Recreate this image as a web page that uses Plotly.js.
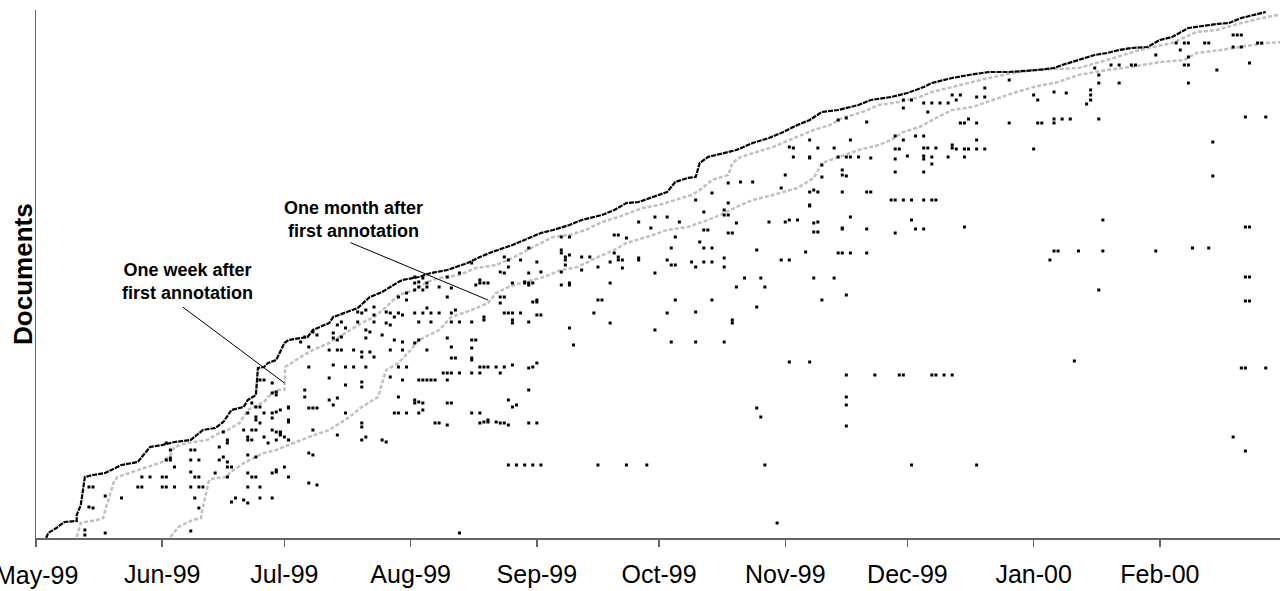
<!DOCTYPE html>
<html><head><meta charset="utf-8">
<script src="https://cdn.plot.ly/plotly-3.0.1.min.js"></script>
<style>body{margin:0;background:#fff}#chart{width:1282px;height:591px}</style>
</head><body><div id="chart"></div>
<script>
// day offsets are days since 1999-05-01; docs = document index (sorted by first annotation)
const monthTicks = ['1999-05-01','1999-06-01','1999-07-01','1999-08-01','1999-09-01','1999-10-01','1999-11-01','1999-12-01','2000-01-01','2000-02-01'];
const monthLabels = ['May-99','Jun-99','Jul-99','Aug-99','Sep-99','Oct-99','Nov-99','Dec-99','Jan-00','Feb-00'];

const firstDay = [2.5,3,5,7,10,10,11,11.5,12,14,17,21,25,28,31,34,38,41,44,46,48,51,52,54,54.5,56,57,59,61,62,66.7,68,72,73,79,82,85,89,90,94,97,101,106,109,112,117,123,124,127,131,134,139,142,145,148,153,155,157,160,162,163,165,169,172,176,180,183,187,190,193,197,202,205,210,214,218,220,225,229,232,234,239,246,250,252,256,260,263,266,269,273,276,279,283,288,290,293,296,299,302];
const firstDoc = [0,5,10,16,17,23,33,48,61,63,65,73,76,91,93,96,98,108,110,116,128,131,138,143,170,171,175,178,195,198,201,208,215,221,230,241,246,256,258,261,265,268,275,281,286,293,303,305,308,313,318,323,328,335,336,343,346,356,360,361,375,381,385,388,395,400,405,413,418,426,428,433,438,441,445,451,455,460,463,465,466,466,468,470,473,478,483,485,488,490,491,498,501,510,513,514,515,520,523,526];

const weekDay = [10,11,12,15,16.5,17,18,19,20,23,25,29,31,33,34,37,42,45,47,50,52,56,57,59,61,61.2,65,68,72,76,80,83,86,89,93,96,99,104,108,113,117,123,127,131,135,139,143,149,153,157,161,163,166,170,171,173,176,181,185,188,191,195,198,203,207,212,217,220,225,230,234,240,245,256,263,271,279,285,290,296,301,305];
const weekDoc = [1,15,16,18,20,28,41,55,61,65,68,73,76,83,91,95,98,105,108,115,128,136,141,148,148,171,181,188,195,205,215,221,231,243,248,256,260,263,270,273,280,293,301,303,308,316,321,330,333,338,343,348,358,363,375,381,385,391,398,403,408,413,420,426,433,436,441,446,451,456,460,465,468,470,478,488,495,506,508,515,520,523];

const monthDay = [33,35,38.5,40.5,41,42,42.5,44,47,47.5,51,56,59,62,67,72,77,80,84,85,86,89,92,94,99,102,107,111,113,116,120,124,129,133,138,142,145,150,155,160,165,168,172,176,181,187,191,193,197,202,207,210,213,217,221,225,230,235,240,245,251,256,263,269,276,282,285,291,296,302,306];
const monthDoc = [1,11,18,20,31,48,58,60,61,65,75,85,88,93,101,108,121,131,141,155,168,175,188,198,208,221,228,235,245,251,256,260,268,271,281,288,295,301,308,311,318,323,331,338,343,350,360,375,381,388,393,398,406,411,420,428,431,438,445,451,456,463,468,471,476,478,485,488,491,495,496];

const annDay = [17,38,12,12,13,14,13,14,17,21,26,28,31,32,25,26,31,32,34,38,40,41,52,55,34,33,32,33,39,40,38,38,40,39,40,44,47,47,48,47,45,47,45,52,54,53,48,49,51,52,55,58,59,61,58,59,52,54,52,54,56,57,59,60,61,62,51,52,53,54,58,60,62,56,59,62,54,52,46,47,46,38,39,33,32,58,59,55,56,62,62,66,66,67,68,69,68,67,68,67,69,59,60,
58,59,53,55,54,55,58,53,58,60,62,67,73,76,78,81,72,76,80,80,72,74,73,76,74,75,78,80,80,82,83,72,65,67,66,68,69,73,74,75,73,75,76,74,79,80,81,82,81,79,83,81,83,83,86,87,88,89,90,86,87,85,88,90,90,87,89,91,91,93,94,95,94,96,93,95,97,96,94,97,93,94,96,94,95,97,98,99,102,103,102,104,101,102,108,107,107,102,103,104,102,100,108,109,114,117,120,115,117,121,123,109,110,113,115,117,121,122,107,110,111,113,115,116,121,123,116,118,90,88,91,94,95,98,99,101,102,107,89,93,94,101,80,80,81,80,85,86,74,
114,123,107,109,111,101,96,101,89,91,87,121,117,109,111,114,109,95,93,89,117,110,107,107,101,102,115,116,116,119,123,121,115,109,110,111,107,104,101,99,96,95,93,93,
114,115,116,119,110,117,124,122,122,121,114,131,132,141,137,141,138,129,131,129,134,138,124,129,130,131,134,136,142,143,144,148,144,152,142,145,148,151,152,155,158,156,157,155,156,157,161,162,164,165,163,164,166,164,166,169,169,170,171,162,164,166,169,170,169,170,172,173,176,170,180,184,185,187,177,183,185,189,191,192,192,191,197,198,198,190,183,184,186,190,193,193,198,174,178,172,179,191,196,199,193,177,166,157,162,155,171,162,156,169,152,121,123,120,121,129,130,130,131,123,129,131,139,143,141,143,148,171,
185,186,190,192,190,196,197,199,200,202,205,200,204,197,199,198,199,190,191,192,198,204,205,190,200,198,204,200,204,210,211,213,215,218,220,221,211,211,211,212,214,213,211,216,218,218,219,221,218,218,220,220,218,224,225,226,228,229,228,225,231,233,231,215,216,218,211,228,227,228,229,231,239,246,247,250,245,219,213,218,220,222,213,215,224,225,226,227,231,233,233,239,245,246,249,
250,253,250,252,254,261,259,259,259,258,261,261,266,260,264,266,269,270,275,281,283,282,283,283,280,282,283,287,288,290,294,295,296,294,296,298,300,301,297,302,289,289,262,250,251,256,262,275,284,288,297,298,297,298,297,298,261,255,296,297,302,294,297,
138,145,150,179,215,231,116,118,120,122,124,185,190,199,206,212,213,220,221,223,225,199,199,199,177,178,182,104];
const annDoc = [5,7,8,3,31,30,51,51,42,40,61,61,61,61,51,51,51,51,51,51,51,51,51,51,71,80,78,78,61,61,66,78,78,40,30,65,61,71,71,76,91,95,78,65,61,61,36,40,38,35,40,40,66,71,65,68,83,81,98,108,101,95,98,105,101,98,108,101,98,118,120,128,130,125,126,131,131,125,106,98,81,88,88,88,95,145,146,158,158,118,61,148,141,130,130,130,108,85,83,55,53,106,103,
155,143,135,131,121,115,125,108,108,106,116,171,173,171,171,171,160,153,156,151,138,140,133,125,188,188,188,186,181,186,181,188,196,191,201,206,203,200,198,201,205,216,210,213,226,225,208,206,200,216,216,228,231,223,226,225,221,225,223,215,213,203,198,196,188,188,241,245,238,261,256,260,251,251,225,225,225,230,216,216,195,198,188,158,158,158,158,225,225,228,216,216,241,250,198,190,180,180,180,165,165,165,253,255,266,255,256,225,225,216,236,171,171,171,171,173,170,171,178,116,116,116,115,113,115,115,138,133,158,125,125,125,128,115,115,113,135,125,141,135,136,135,115,111,101,98,98,96,103,
165,175,165,165,171,165,158,158,171,171,161,148,131,125,118,115,115,135,138,125,218,221,216,198,200,191,281,271,278,278,238,265,265,258,255,255,275,265,261,251,255,248,255,248,
241,241,225,225,218,215,223,236,255,253,235,210,193,215,225,255,238,253,253,266,268,271,266,288,278,283,281,281,285,278,278,280,270,265,303,300,316,310,321,321,316,290,301,278,273,273,276,271,308,308,296,290,290,276,276,271,280,305,305,338,326,345,323,323,328,335,315,356,356,355,316,316,318,318,288,278,278,286,306,306,316,315,285,285,310,333,350,363,381,381,373,361,363,260,260,251,251,260,260,243,238,231,238,238,226,225,215,196,196,196,208,290,276,255,255,285,281,273,255,223,301,301,238,303,276,281,278,218,
391,390,380,390,398,390,381,381,381,381,380,398,416,418,420,368,362,346,348,346,346,346,346,332,321,309,309,285,285,338,338,338,338,338,338,338,366,379,389,389,382,398,402,402,402,390,390,390,382,379,381,374,366,381,390,389,389,389,381,393,389,389,398,318,309,309,305,311,415,415,419,415,415,415,415,415,389,426,430,435,435,435,438,438,435,443,438,443,441,441,450,458,443,438,278,
446,445,419,419,419,419,448,443,438,434,463,455,455,470,473,473,473,473,483,488,481,473,473,455,495,495,495,495,495,468,503,503,503,491,491,475,495,495,421,421,396,362,318,287,287,287,287,287,290,290,311,311,261,261,237,237,248,177,170,170,170,101,87,
73,73,73,73,73,73,73,73,73,73,73,176,176,163,163,163,163,163,163,163,163,141,112,133,130,121,15,5];

const DAY0 = Date.UTC(1999, 4, 1);
function toDate(d) { return new Date(DAY0 + d * 86400000).toISOString().slice(0, 19).replace('T', ' '); }

const traces = [
  { x: weekDay.map(toDate), y: weekDoc, mode: 'lines', type: 'scatter',
    line: { color: '#c0c0c0', width: 2.5, dash: '4px,2px' }, hoverinfo: 'skip' },
  { x: monthDay.map(toDate), y: monthDoc, mode: 'lines', type: 'scatter',
    line: { color: '#c0c0c0', width: 2.5, dash: '4px,2px' }, hoverinfo: 'skip' },
  { x: annDay.map(toDate), y: annDoc, mode: 'markers', type: 'scatter',
    marker: { symbol: 'square', size: 3, color: '#000' } },
  { x: firstDay.map(toDate), y: firstDoc, mode: 'lines', type: 'scatter',
    line: { color: '#000', width: 2.2, dash: '5px,1px' } }
];

const tickFont = { family: 'Liberation Sans, Arial, sans-serif', size: 25, color: '#000' };
const annFont = { family: 'Liberation Sans, Arial, sans-serif', size: 18, color: '#000' };
const layout = {
  width: 1282, height: 591,
  margin: { l: 36, r: 2, t: 10, b: 53 },
  paper_bgcolor: '#fff', plot_bgcolor: '#fff',
  showlegend: false,
  xaxis: {
    type: 'date', range: [toDate(0), toDate(305.5)],
    tickvals: monthTicks, ticktext: monthLabels.map((t, i) => i === 0 ? '' : t),
    ticks: 'outside', ticklen: 7, tickcolor: '#666', tickwidth: 1.5,
    ticklabelstandoff: 6,
    showline: true, linecolor: '#666', linewidth: 1.5,
    showgrid: false, zeroline: false,
    tickfont: tickFont
  },
  yaxis: {
    range: [0, 528], showline: true, linecolor: '#666', linewidth: 1.5,
    showticklabels: false, ticks: '', showgrid: false, zeroline: false
  },
  annotations: [
    // first month label sits half outside the page, drawn as a plain annotation so it is not culled
    { xref: 'x', yref: 'paper', x: monthTicks[0], y: -0.0701, xanchor: 'center', yanchor: 'middle',
      text: monthLabels[0], showarrow: false, font: tickFont },
    { xref: 'paper', yref: 'paper', x: -0.0105, y: 0.5, xanchor: 'center', yanchor: 'middle',
      text: '<b>Documents</b>', textangle: -90,
      showarrow: false, font: { family: 'Liberation Sans, Arial, sans-serif', size: 26, color: '#000' } },
    { xref: 'paper', yref: 'paper', x: 0.1214, y: 0.485, xanchor: 'center', yanchor: 'middle',
      text: '<b>One week after<br>first annotation</b>',
      showarrow: false, font: annFont, align: 'center' },
    { xref: 'paper', yref: 'paper', x: 0.2555, y: 0.604, xanchor: 'center', yanchor: 'middle',
      text: '<b>One month after<br>first annotation</b>',
      showarrow: false, font: annFont, align: 'center' },
    { x: toDate(61), y: 155, text: '', showarrow: true, arrowhead: 0, arrowwidth: 1, arrowcolor: '#000', ax: -103, ay: -77 },
    { x: toDate(111), y: 238, text: '', showarrow: true, arrowhead: 0, arrowwidth: 1, arrowcolor: '#000', ax: -139, ay: -58 }
  ]
};
Plotly.newPlot('chart', traces, layout, { displayModeBar: false, staticPlot: true });
</script></body></html>
